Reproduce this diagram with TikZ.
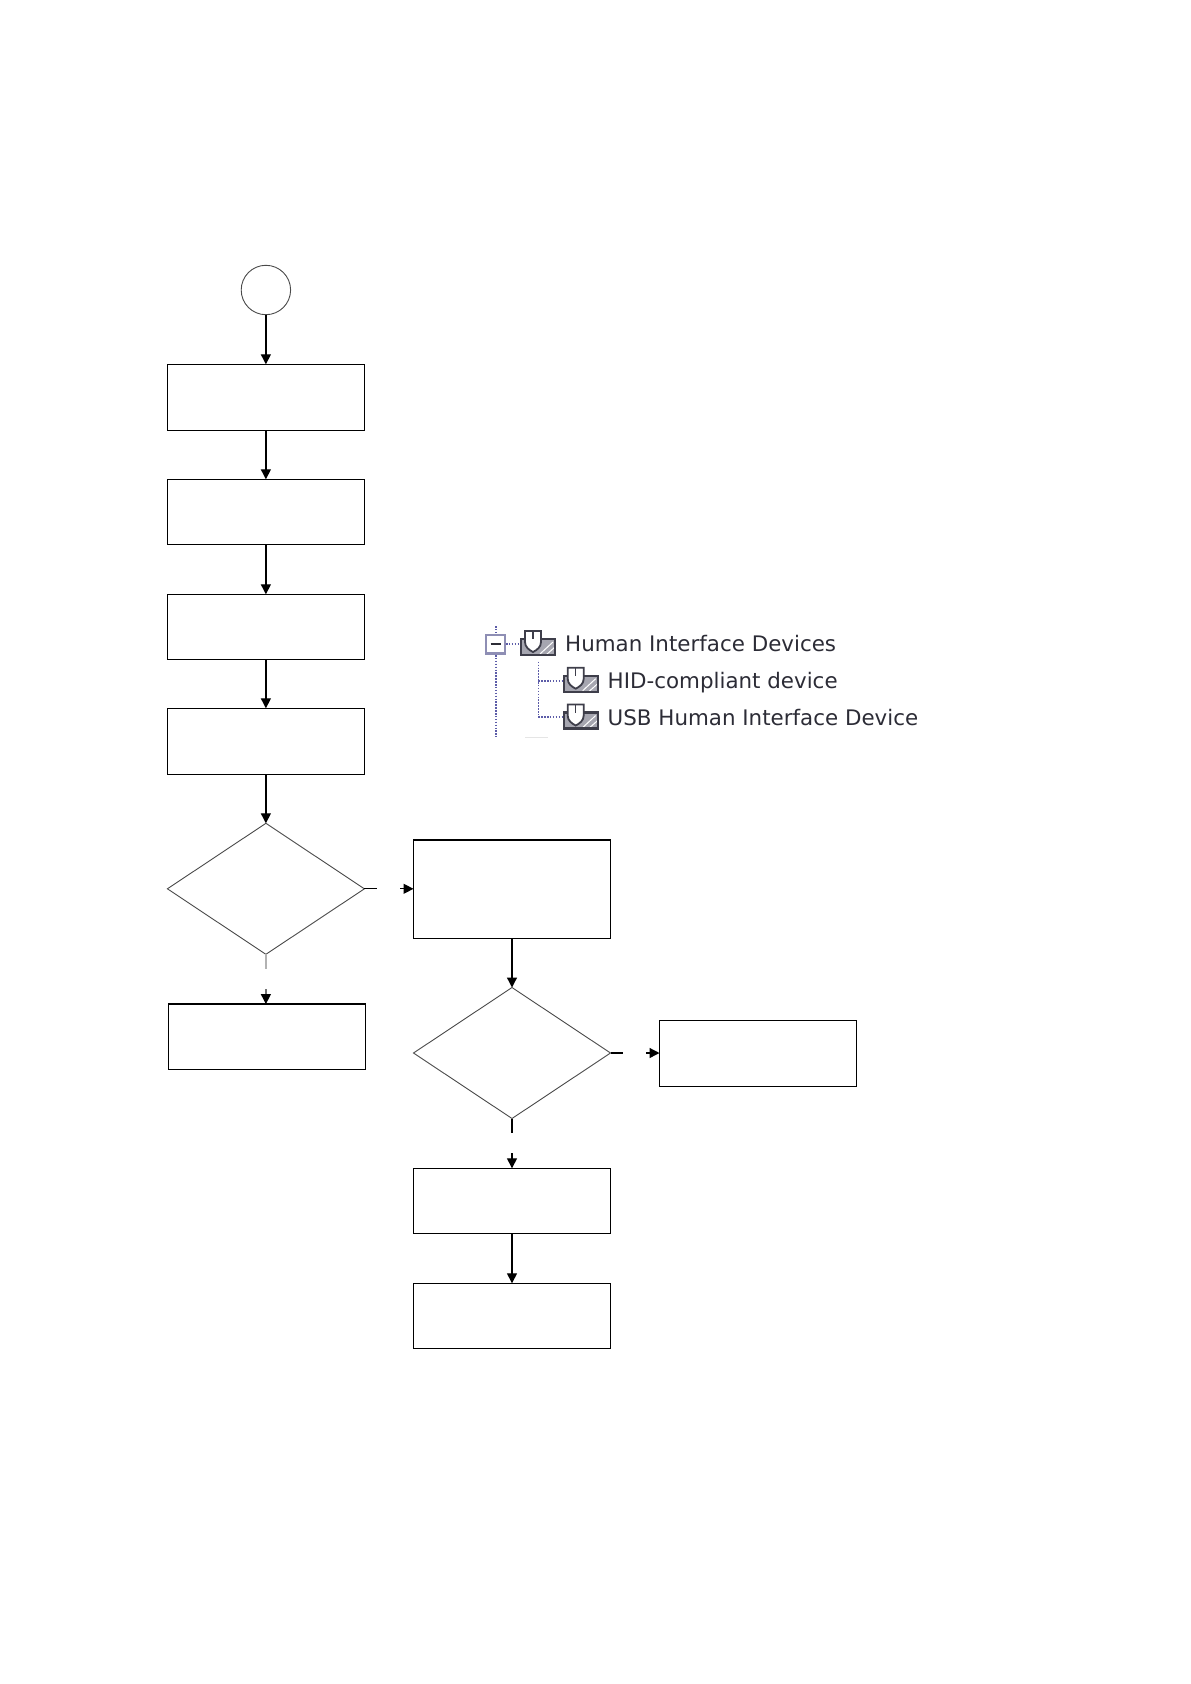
\documentclass[tikz,border=0pt]{standalone}
\usepackage{fontspec}
\setmainfont{DejaVu Sans}
\usetikzlibrary{arrows.meta,shapes.geometric}
\definecolor{shapeline}{HTML}{4A4A4A}
\definecolor{treeblue}{HTML}{5C5CA8}
\definecolor{boxlav}{HTML}{8E8EB4}
\definecolor{shottext}{HTML}{2C2C36}
\definecolor{traydark}{HTML}{3E3E4A}
\definecolor{traygrey}{HTML}{A6A6B0}
\tikzset{
  x=1pt,y=-1pt,
  flowbox/.style={draw=black,line width=1.3pt,fill=white,rectangle,inner sep=0pt,outer sep=0pt,minimum width=197pt},
  decide/.style={draw=shapeline,line width=0.9pt,fill=white,diamond,aspect=1.5,inner sep=0pt,outer sep=0pt,minimum width=197pt,minimum height=131pt},
  startcircle/.style={draw=shapeline,line width=0.9pt,fill=white,circle,inner sep=0pt,outer sep=0pt,minimum size=49.4pt},
  flow/.style={draw=black,line width=1.3pt},
  flowarrow/.style={flow,-{Triangle[length=10pt,width=10pt,color=black,fill=black]}},
  treedots/.style={draw=treeblue,line width=1.6pt,dash pattern=on 1.5pt off 1.4pt},
  shotlabel/.style={font=\fontsize{21.4}{25}\selectfont,text=shottext,anchor=base west,inner sep=0pt},
  hidicon/.pic={
    \fill[traygrey] (0,8) rectangle (36,26);
    \draw[white,line width=1pt] (20,24) -- (33,12) (26,25) -- (35,17);
    \draw[traydark,line width=2.2pt] (21,9) -- (35,9) -- (35,25) -- (1,25) -- (1,9) -- (5,9);
    \draw[traydark,line width=1.8pt,fill=white] (5,1) -- (21,1) -- (21,12) .. controls (21,17) and (17,20) .. (13,22) .. controls (9,20) and (5,17) .. (5,12) -- cycle;
    \draw[traydark,line width=1.2pt] (13,1) -- (13,9);
  }
}
\begin{document}
\begin{tikzpicture}
\useasboundingbox (0,0) rectangle (1191,1684);
\node[startcircle] (start) at (265.9,290) {};
\node[flowbox,minimum height=66pt] (b1) at (265.9,397.3) {};
\node[flowbox,minimum height=65pt] (b2) at (265.9,511.8) {};
\node[flowbox,minimum height=65pt] (b3) at (265.9,626.8) {};
\node[flowbox,minimum height=66pt] (b4) at (265.9,741.3) {};
\node[decide] (d1) at (265.9,888.8) {};
\node[flowbox,minimum height=98.3pt] (b5) at (512,889.2) {};
\node[flowbox,minimum height=65.3pt] (b6) at (267,1036.7) {};
\node[decide] (d2) at (512,1053) {};
\node[flowbox,minimum height=66pt] (b7) at (758,1053.3) {};
\node[flowbox,minimum height=65pt] (b8) at (512,1200.8) {};
\node[flowbox,minimum height=65pt] (b9) at (512,1315.8) {};

\coordinate (d1r) at (376.7,888.8);
\coordinate (d1ra) at (400,888.8);
\coordinate (d1b) at (265.9,969);
\coordinate (d1ba) at (265.9,989.3);
\coordinate (d2r) at (622.7,1053);
\coordinate (d2ra) at (646,1053);
\coordinate (d2b) at (512,1132.7);
\coordinate (d2ba) at (512,1153);

\draw[flowarrow] (start) -- (b1);
\draw[flowarrow] (b1) -- (b2);
\draw[flowarrow] (b2) -- (b3);
\draw[flowarrow] (b3) -- (b4);
\draw[flowarrow] (b4) -- (d1);
\draw[flow] (d1) -- (d1r);
\draw[flowarrow] (d1ra) -- (d1ra -| b5.west);
\draw[flow,draw=black!30] (d1) -- (d1b);
\draw[flowarrow,draw=black!55] (d1ba) -- (d1ba |- b6.north);
\draw[flowarrow] (b5) -- (d2);
\draw[flow] (d2) -- (d2r);
\draw[flowarrow] (d2ra) -- (d2ra -| b7.west);
\draw[flow] (d2) -- (d2b);
\draw[flowarrow] (d2ba) -- (b8);
\draw[flowarrow] (b8) -- (b9);

% screenshot of the device tree
\coordinate (t0) at (495.7,626);
\coordinate (t1) at (495.7,737);
\coordinate (t2) at (538.3,661.7);
\coordinate (t3) at (538.3,717);
\draw[treedots] (t0) -- (t1);
\draw[treedots] (t2) -- (t3);
\draw[treedots] (t3) -- (563,717);
\draw[treedots] (538.3,681) -- (563,681);
\draw[treedots] (506,644) -- (521,644);
\node[draw=boxlav,line width=2.4pt,fill=white,rectangle,inner sep=0pt,minimum width=19pt,minimum height=18.5pt] (minusbox) at (495.5,644.2) {};
\draw[shottext,line width=1.8pt] (490.5,644.2) -- (500.5,644.2);
\pic at (520,630) {hidicon};
\pic at (562.7,666.7) {hidicon};
\pic at (562.7,703.5) {hidicon};
\draw[black!10,line width=0.8pt] (525,737.3) -- (548,737.3);
\node[shotlabel] (l1) at (565,651.5) {Human Interface Devices};
\node[shotlabel] (l2) at (607.5,688) {HID-compliant device};
\node[shotlabel] (l3) at (607.5,725) {USB Human Interface Device};
\end{tikzpicture}
\end{document}
